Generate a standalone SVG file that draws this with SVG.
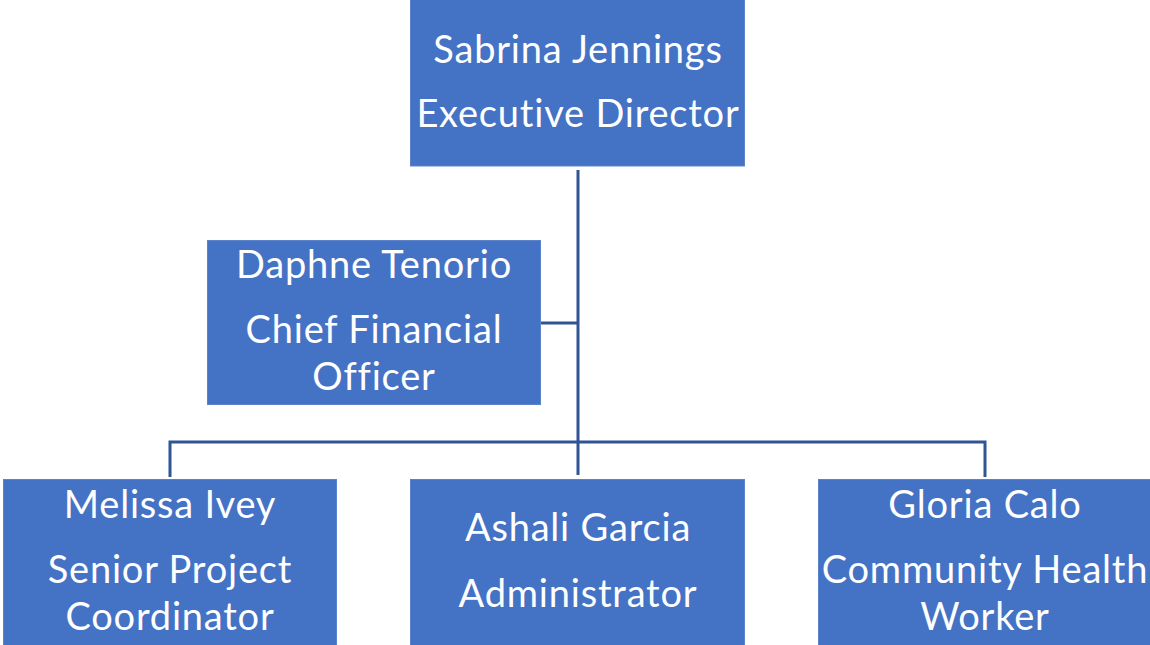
<svg xmlns="http://www.w3.org/2000/svg" width="1150" height="645" viewBox="0 0 1150 645">
<style>
.box{fill:#4472C4;stroke:#5B83CC;stroke-width:1}
.t{font-family:Lato,"Open Sans","Liberation Sans",sans-serif;font-size:38px;letter-spacing:0.8px;font-variant-ligatures:none;fill:#FFFFFF;text-anchor:middle}
.c{fill:none;stroke:#2F5597;stroke-width:3}
</style>
<rect width="1150" height="645" fill="#FFFFFF"/>
<g id="connectors">
<path class="c" d="M578,170 V475"/>
<path class="c" d="M541,323 H578"/>
<path class="c" d="M170,477 V442 H985 V477"/>
</g>
<g id="n-sabrina">
<rect class="box" x="410.5" y="-1" width="334" height="167"/>
<text class="t" x="578" y="63">Sabrina Jennings</text>
<text class="t" x="578" y="127">Executive Director</text>
</g>
<g id="n-daphne">
<rect class="box" x="207.5" y="240.5" width="333" height="164"/>
<text class="t" x="374" y="278">Daphne Tenorio</text>
<text class="t" x="374" y="343">Chief Financial</text>
<text class="t" x="374" y="390">Officer</text>
</g>
<g id="n-melissa">
<rect class="box" x="3.5" y="479.5" width="333" height="167"/>
<text class="t" x="170" y="518">Melissa Ivey</text>
<text class="t" x="170" y="583">Senior Project</text>
<text class="t" x="170" y="630">Coordinator</text>
</g>
<g id="n-ashali">
<rect class="box" x="410.5" y="479.5" width="334" height="167"/>
<text class="t" x="578" y="541">Ashali Garcia</text>
<text class="t" x="578" y="607">Administrator</text>
</g>
<g id="n-gloria">
<rect class="box" x="818.5" y="479.5" width="333" height="167"/>
<text class="t" x="985" y="518">Gloria Calo</text>
<text class="t" x="985" y="583">Community Health</text>
<text class="t" x="985" y="630">Worker</text>
</g>
</svg>
